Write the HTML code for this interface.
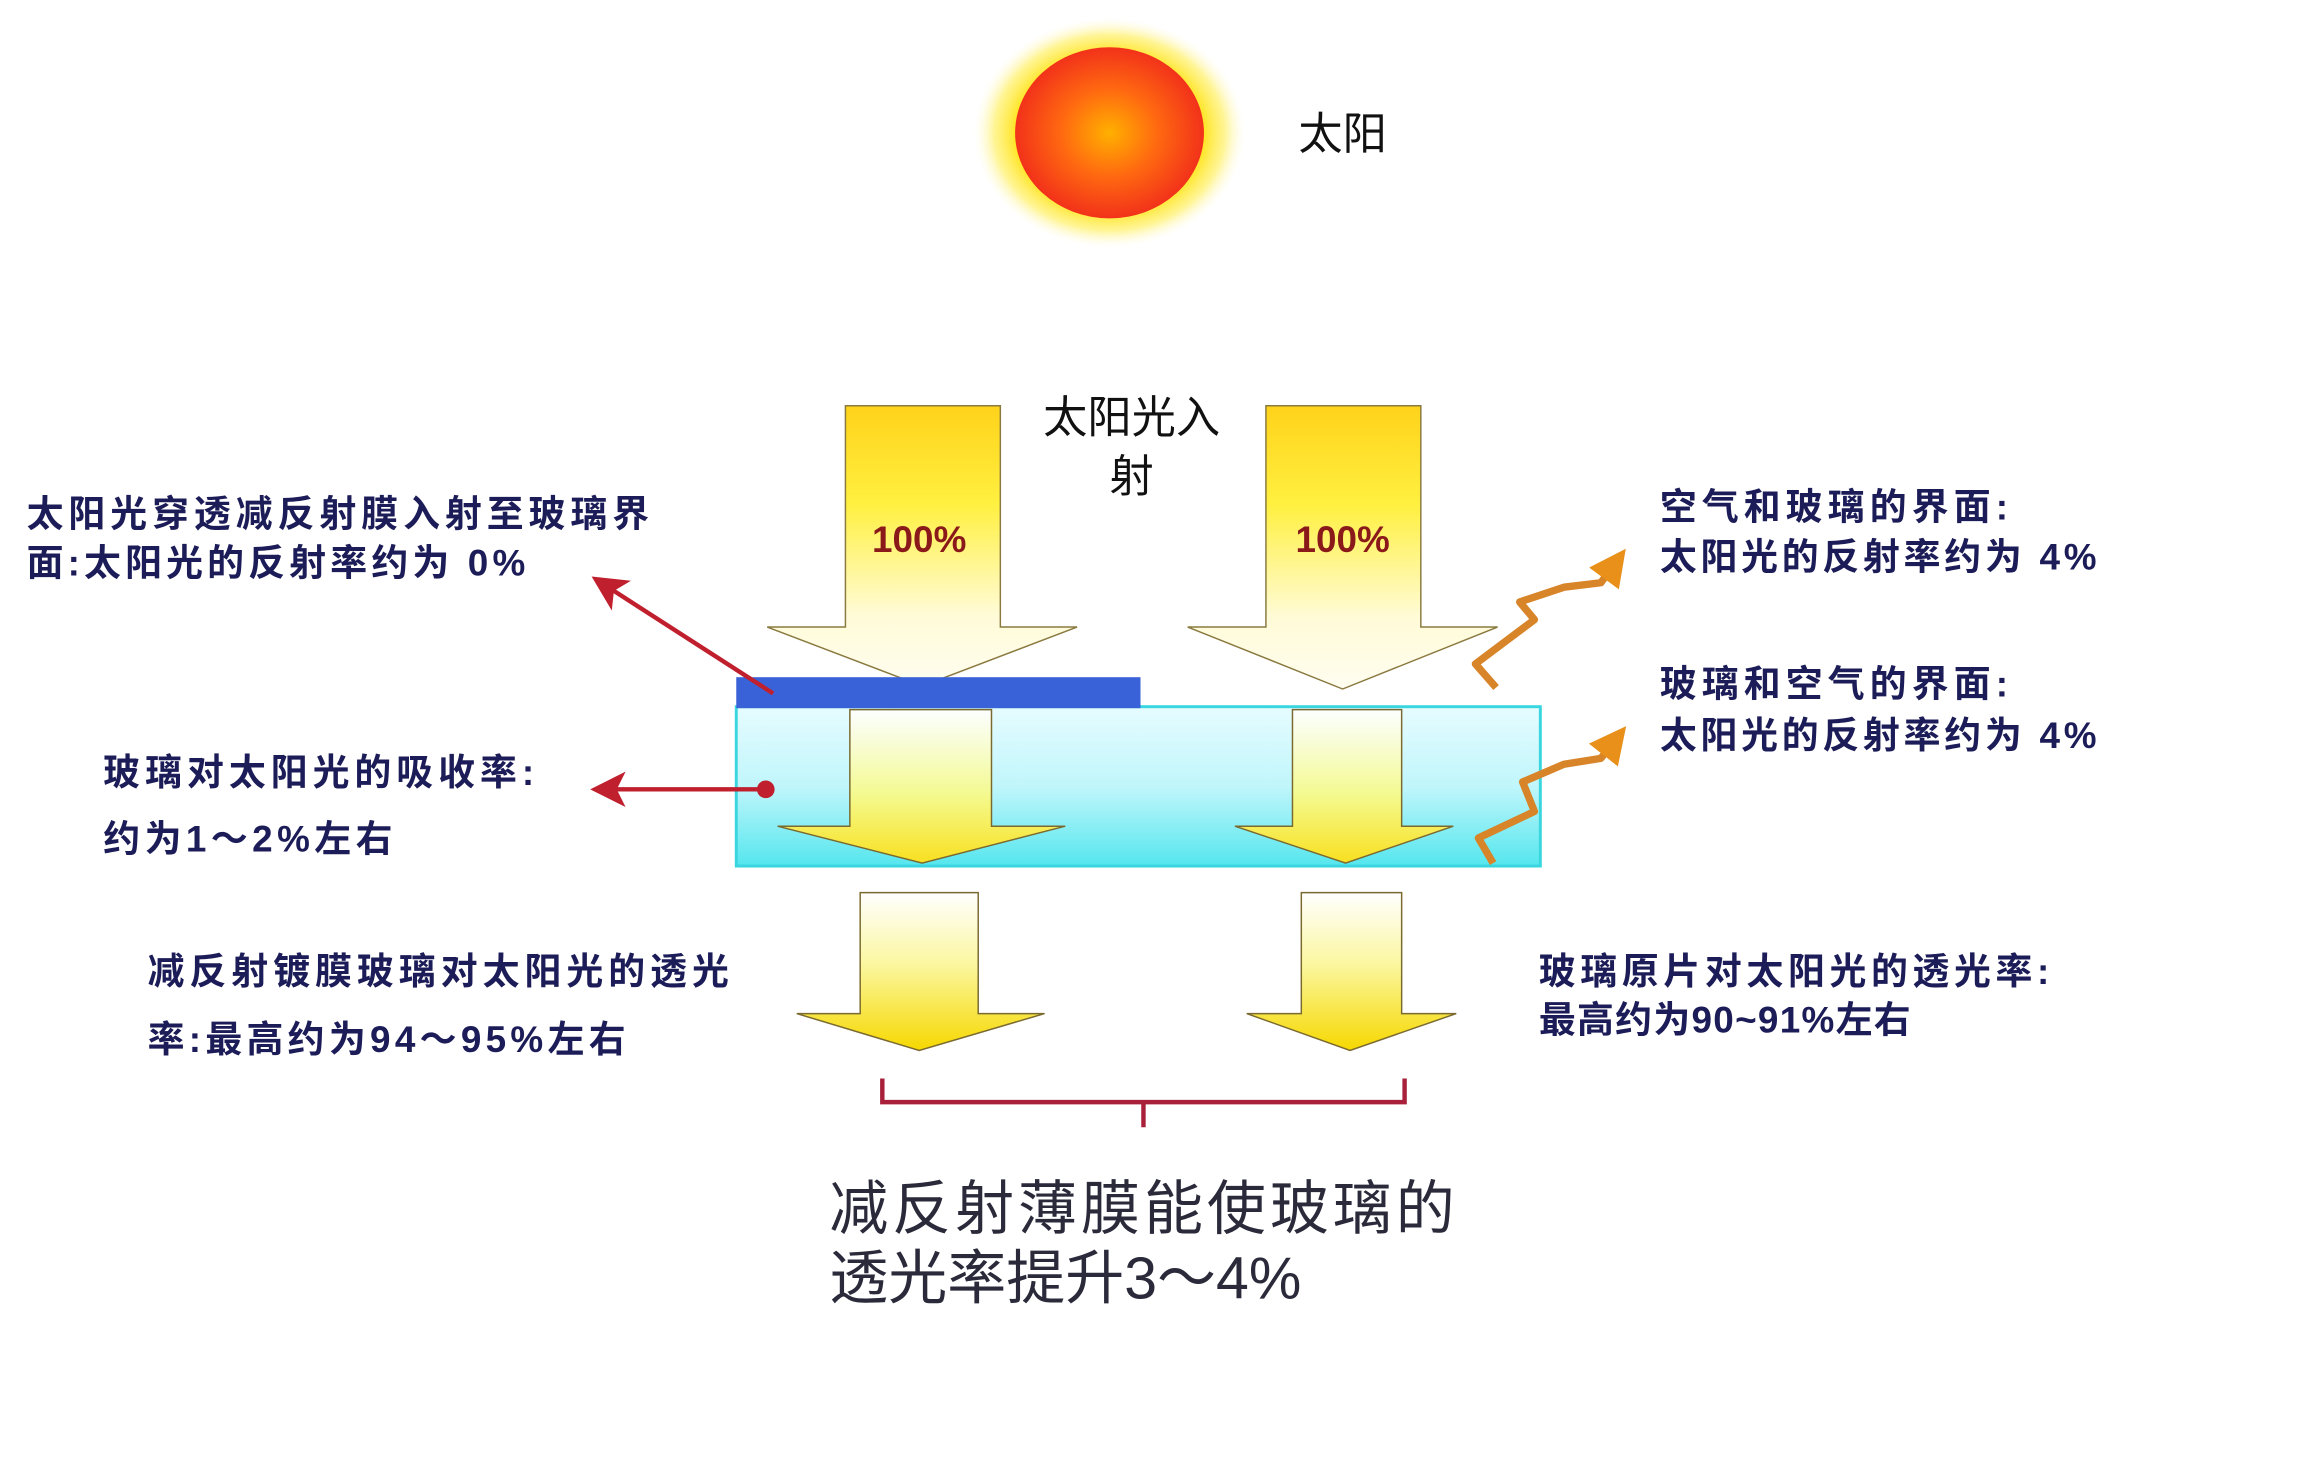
<!DOCTYPE html>
<html><head><meta charset="utf-8"><style>
html,body{margin:0;padding:0;background:#fff;}
svg{display:block;}
text{font-family:"Liberation Sans","Noto Sans CJK SC",sans-serif;}
.t{fill:#1c1c58;font-weight:bold;font-size:25px;}
</style></head><body>
<svg width="2312" height="1468" viewBox="0 0 1567 995" xmlns="http://www.w3.org/2000/svg">
<defs>
<radialGradient id="glow" cx="50%" cy="50%" r="50%">
<stop offset="0.65" stop-color="#ffe000" stop-opacity="1"/>
<stop offset="0.85" stop-color="#fff27a" stop-opacity="0.8"/>
<stop offset="1" stop-color="#fffbe0" stop-opacity="0"/>
</radialGradient>
<radialGradient id="sun" cx="50%" cy="50%" r="50%">
<stop offset="0" stop-color="#ffb000"/>
<stop offset="0.5" stop-color="#ff6a10"/>
<stop offset="1" stop-color="#f2321a"/>
</radialGradient>
<linearGradient id="top" x1="0" y1="0" x2="0" y2="1">
<stop offset="0" stop-color="#ffd21a"/>
<stop offset="0.35" stop-color="#fff040"/>
<stop offset="0.75" stop-color="#fffbd8"/>
<stop offset="1" stop-color="#fffdf0"/>
</linearGradient>
<linearGradient id="glass" x1="0" y1="0" x2="0" y2="1">
<stop offset="0" stop-color="#e6fcff"/>
<stop offset="0.5" stop-color="#c0f6fb"/>
<stop offset="1" stop-color="#55e6ee"/>
</linearGradient>
<linearGradient id="inner" x1="0" y1="0" x2="0" y2="1">
<stop offset="0" stop-color="#ffffff" stop-opacity="0.9"/>
<stop offset="0.55" stop-color="#f4fa90"/>
<stop offset="1" stop-color="#f8e020"/>
</linearGradient>
<linearGradient id="low" x1="0" y1="0" x2="0" y2="1">
<stop offset="0" stop-color="#ffffff"/>
<stop offset="0.45" stop-color="#fbf7a0"/>
<stop offset="1" stop-color="#f6d800"/>
</linearGradient>
<marker id="ar" markerWidth="8" markerHeight="8" refX="6" refY="4" orient="auto" markerUnits="strokeWidth">
<path d="M0,0 L8,4 L0,8 L2,4 Z" fill="#c0202e"/>
</marker>
<marker id="ao" markerWidth="5" markerHeight="5" refX="3" refY="2.5" orient="auto" markerUnits="strokeWidth">
<path d="M0,0 L5,2.5 L0,5 Z" fill="#e8901a"/>
</marker>
</defs>

<!-- sun -->
<ellipse cx="752" cy="90" rx="92" ry="78" fill="url(#glow)"/>
<ellipse cx="752" cy="90" rx="64" ry="58" fill="url(#sun)"/>
<text x="880" y="101" font-size="30" fill="#111">太阳</text>

<!-- top arrows -->
<path d="M573,275 H678 V425 H730 L625,465 L520,425 H573 Z" fill="url(#top)" stroke="#8a7a40" stroke-width="1"/>
<path d="M858,275 H963 V425 H1015 L910,467 L805,425 H858 Z" fill="url(#top)" stroke="#8a7a40" stroke-width="1"/>
<text x="623" y="374" font-size="25" font-weight="bold" fill="#8a1a1a" text-anchor="middle">100%</text>
<text x="910" y="374" font-size="25" font-weight="bold" fill="#8a1a1a" text-anchor="middle">100%</text>
<text x="767" y="293" font-size="30" fill="#111" text-anchor="middle">太阳光入</text>
<text x="767" y="333" font-size="30" fill="#111" text-anchor="middle">射</text>

<!-- glass -->
<rect x="499" y="479" width="545" height="108" fill="url(#glass)" stroke="#3ad6e0" stroke-width="2"/>
<rect x="499" y="459" width="274" height="21" fill="#3a62d8"/>

<!-- inner arrows -->
<path d="M576,481 H672 V560 H722 L625,585 L527,560 H576 Z" fill="url(#inner)" stroke="#7a6a30" stroke-width="1"/>
<path d="M876,481 H950 V560 H985 L912,585 L837,560 H876 Z" fill="url(#inner)" stroke="#7a6a30" stroke-width="1"/>

<!-- lower arrows -->
<path d="M583,605 H663 V687 H708 L623,712 L540,687 H583 Z" fill="url(#low)" stroke="#7a6a30" stroke-width="1"/>
<path d="M882,605 H950 V687 H987 L915,712 L845,687 H882 Z" fill="url(#low)" stroke="#7a6a30" stroke-width="1"/>

<!-- bracket -->
<path d="M598,731 V747 H952 V731 M775,747 V764" fill="none" stroke="#a8203a" stroke-width="3"/>

<!-- red pointers -->
<line x1="524" y1="470" x2="406" y2="394" stroke="#c0202e" stroke-width="3" marker-end="url(#ar)"/>
<line x1="519" y1="535" x2="406" y2="535" stroke="#c0202e" stroke-width="3" marker-end="url(#ar)"/>
<circle cx="519" cy="535" r="6" fill="#c0202e"/>

<!-- wavy reflections -->
<path d="M1014,466 L1000,450 L1040,420 L1030,408 L1060,398 L1085,395 L1096,380" fill="none" stroke="#d88428" stroke-width="5" stroke-linejoin="round" marker-end="url(#ao)"/>
<path d="M1012,585 L1002,568 L1040,550 L1032,530 L1060,518 L1085,514 L1096,500" fill="none" stroke="#d88428" stroke-width="5" stroke-linejoin="round" marker-end="url(#ao)"/>

<!-- left texts -->
<text class="t" x="18" y="357" textLength="422">太阳光穿透减反射膜入射至玻璃界</text>
<text class="t" x="18" y="390" textLength="338">面:太阳光的反射率约为 0%</text>
<text class="t" x="70" y="532" textLength="292">玻璃对太阳光的吸收率:</text>
<text class="t" x="70" y="577" textLength="196">约为1～2%左右</text>
<text class="t" x="100" y="667" textLength="394">减反射镀膜玻璃对太阳光的透光</text>
<text class="t" x="100" y="713" textLength="324">率:最高约为94～95%左右</text>

<!-- right texts -->
<text class="t" x="1125" y="352" textLength="236">空气和玻璃的界面:</text>
<text class="t" x="1125" y="386" textLength="296">太阳光的反射率约为 4%</text>
<text class="t" x="1125" y="472" textLength="236">玻璃和空气的界面:</text>
<text class="t" x="1125" y="507" textLength="296">太阳光的反射率约为 4%</text>
<text class="t" x="1043" y="667" textLength="346">玻璃原片对太阳光的透光率:</text>
<text class="t" x="1043" y="700" textLength="252">最高约为90~91%左右</text>

<!-- bottom -->
<text x="562" y="833" font-size="40" fill="#2a2a3a" textLength="424">减反射薄膜能使玻璃的</text>
<text x="562" y="880" font-size="40" fill="#2a2a3a" textLength="320">透光率提升3～4%</text>
</svg>
</body></html>
